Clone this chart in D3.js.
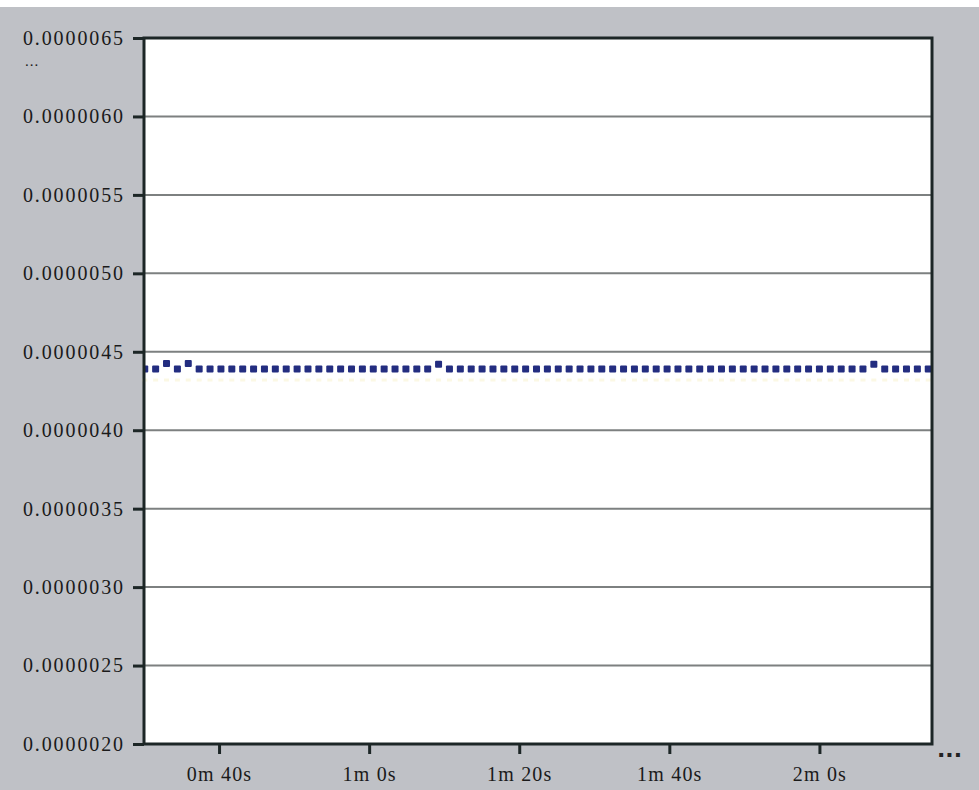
<!DOCTYPE html>
<html><head><meta charset="utf-8">
<script src="https://cdn.jsdelivr.net/npm/d3@7"></script>
<style>
html,body{margin:0;padding:0;background:#fff;}
svg{display:block;}
</style></head><body>
<script>
// Data
const times = [30.10,31.55,33.00,34.45,35.90,37.35,38.80,40.25,41.70,43.15,44.60,46.05,47.50,48.95,50.40,51.85,53.30,54.75,56.20,57.65,59.10,60.55,62.00,63.45,64.90,66.35,67.80,69.25,70.70,72.15,73.60,75.05,76.50,77.95,79.40,80.85,82.30,83.75,85.20,86.65,88.10,89.55,91.00,92.45,93.90,95.35,96.80,98.25,99.70,101.15,102.60,104.05,105.50,106.95,108.40,109.85,111.30,112.75,114.20,115.65,117.10,118.55,120.00,121.45,122.90,124.35,125.80,127.25,128.70,130.15,131.60,133.05,134.50];
const values = [4.39,4.39,4.425,4.39,4.425,4.39,4.39,4.39,4.39,4.39,4.39,4.39,4.39,4.39,4.39,4.39,4.39,4.39,4.39,4.39,4.39,4.39,4.39,4.39,4.39,4.39,4.39,4.42,4.39,4.39,4.39,4.39,4.39,4.39,4.39,4.39,4.39,4.39,4.39,4.39,4.39,4.39,4.39,4.39,4.39,4.39,4.39,4.39,4.39,4.39,4.39,4.39,4.39,4.39,4.39,4.39,4.39,4.39,4.39,4.39,4.39,4.39,4.39,4.39,4.39,4.39,4.39,4.42,4.39,4.39,4.39,4.39,4.39].map(v=>v*1e-6);
const faintValues = times.map(()=>4.32e-6);
const yTicks = [2.0e-6,2.5e-6,3.0e-6,3.5e-6,4.0e-6,4.5e-6,5.0e-6,5.5e-6,6.0e-6,6.5e-6];
const yTickLabels = ["0.0000020","0.0000025","0.0000030","0.0000035","0.0000040","0.0000045","0.0000050","0.0000055","0.0000060","0.0000065"];
const xTicks = [40,60,80,100,120];
const xTickLabels = ["0m 40s","1m 0s","1m 20s","1m 40s","2m 0s"];

const FONT = "'Liberation Serif','Times New Roman','DejaVu Serif',serif";
const W=979,H=790;
const L=144,R=932,T=38,B=744;
const svg=d3.select("body").append("svg").attr("width",W).attr("height",H);
svg.append("rect").attr("x",0).attr("y",7).attr("width",W).attr("height",H-7).attr("fill","#bfc1c6");
svg.append("rect").attr("x",L).attr("y",T).attr("width",R-L).attr("height",B-T).attr("fill","#fff");

const x=d3.scaleLinear().domain([30,135]).range([L,R]);
const y=d3.scaleLinear().domain([2.0e-6,6.5e-6]).range([B,T]);

// grid
svg.append("g").selectAll("line").data(yTicks.slice(1,-1)).join("line")
 .attr("x1",L).attr("x2",R).attr("y1",d=>y(d)).attr("y2",d=>y(d))
 .attr("stroke","#7d8080").attr("stroke-width",2);

// faint series
svg.append("g").selectAll("rect").data(times).join("rect")
 .attr("x",(d)=>x(d)-2.5).attr("y",(d,i)=>y(faintValues[i])-1.5).attr("width",5).attr("height",3)
 .attr("fill","#f6f0c4").attr("opacity",0.45);

// main series
svg.append("clipPath").attr("id","c").append("rect").attr("x",L).attr("y",T).attr("width",R-L).attr("height",B-T);
svg.append("g").attr("clip-path","url(#c)").selectAll("rect").data(times).join("rect")
 .attr("x",d=>x(d)-3.5).attr("y",(d,i)=>y(values[i])-3.5).attr("width",7).attr("height",7)
 .attr("rx",1).attr("fill","#232d80");

// y axis
const ya=d3.axisLeft(y).tickValues(yTicks).tickSize(11).tickPadding(8).tickFormat((d,i)=>yTickLabels[i]);
const gy=svg.append("g").attr("transform",`translate(${L},0)`).call(ya);
gy.select(".domain").remove();
gy.selectAll(".tick line").attr("stroke","#1c2626").attr("stroke-width",3);
gy.selectAll(".tick text").style("font-family",FONT).style("font-size","20px").style("letter-spacing","1.9px")
 .attr("dy","0.32em").attr("fill","#1a1a1a");

// x axis
const xa=d3.axisBottom(x).tickValues(xTicks).tickSize(10).tickPadding(13).tickFormat((d,i)=>xTickLabels[i]);
const gx=svg.append("g").attr("transform",`translate(0,${B})`).call(xa);
gx.select(".domain").remove();
gx.selectAll(".tick line").attr("stroke","#1c2626").attr("stroke-width",3);
gx.selectAll(".tick text").style("font-family",FONT).style("font-size","20px").style("letter-spacing","1.2px")
 .attr("fill","#1a1a1a");

// frame
svg.append("rect").attr("x",L).attr("y",T).attr("width",R-L).attr("height",B-T)
 .attr("fill","none").attr("stroke","#1c2626").attr("stroke-width",3);

// ellipses
svg.append("text").attr("x",25).attr("y",66).style("font-family",FONT).style("font-size","15px").style("letter-spacing","1px").attr("fill","#1a1a1a").text("...");
svg.append("text").attr("x",937).attr("y",757).style("font-family","'DejaVu Sans',sans-serif").style("font-size","22px").style("font-weight","bold").attr("fill","#222").text("...");
</script></body></html>
